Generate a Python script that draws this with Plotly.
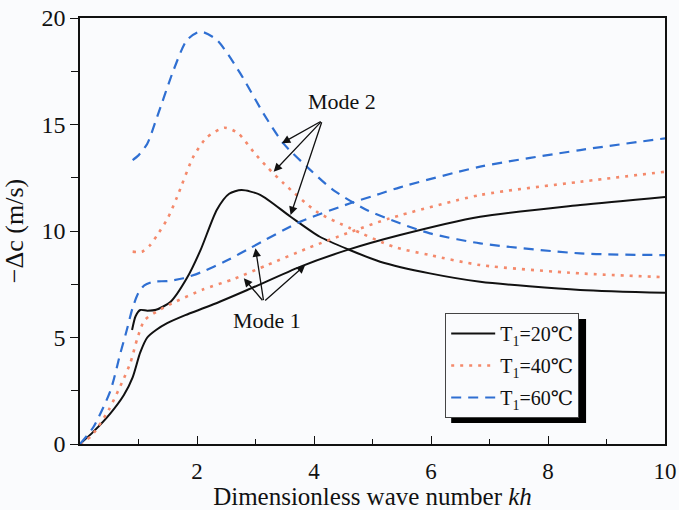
import plotly.graph_objects as go

# ---------------- data ----------------
kh_T20_m1 = [0, 0.23, 0.52, 0.75, 0.9, 1.03, 1.15, 1.3, 1.49, 1.8, 2.23, 2.86, 3.77, 4.56, 5.47, 6.84, 8.55, 10]
dc_T20_m1 = [0, 0.58, 1.44, 2.3, 3.13, 4.3, 5.0, 5.35, 5.67, 6.05, 6.5, 7.23, 8.33, 9.1, 9.81, 10.67, 11.22, 11.6]
kh_T20_m2 = [0.89, 0.95, 1.03, 1.15, 1.3, 1.55, 1.83, 2.06, 2.34, 2.55, 2.76, 3.08, 3.6, 4.1, 4.6, 5.13, 5.98, 6.84, 8.55, 10]
dc_T20_m2 = [5.35, 6.0, 6.29, 6.26, 6.3, 6.68, 7.8, 9.1, 11.0, 11.75, 11.92, 11.7, 10.67, 9.73, 9.12, 8.56, 8.01, 7.62, 7.23, 7.1]

kh_T40_m1 = [0, 0.2, 0.49, 0.72, 0.86, 0.98, 1.1, 1.3, 1.57, 2.1, 2.63, 3.2, 3.9, 4.62, 5.3, 6.84, 8.55, 10]
dc_T40_m1 = [0, 0.4, 1.6, 2.9, 3.8, 4.95, 5.8, 6.2, 6.6, 7.25, 7.75, 8.4, 9.2, 9.95, 10.6, 11.69, 12.31, 12.78]
kh_T40_m2 = [0.9, 1.06, 1.2, 1.32, 1.5, 1.66, 1.94, 2.17, 2.47, 2.7, 2.97, 3.2, 3.48, 4.05, 4.62, 5.36, 5.98, 6.84, 8.55, 10]
dc_T40_m2 = [9.03, 9.03, 9.34, 9.81, 10.6, 11.6, 13.5, 14.4, 14.85, 14.6, 13.7, 13.0, 12.24, 10.9, 10.13, 9.26, 8.87, 8.4, 8.01, 7.83]

kh_T60_m1 = [0, 0.23, 0.52, 0.69, 0.8, 0.9, 1.0, 1.1, 1.26, 1.5, 1.77, 2.06, 2.5, 2.91, 3.77, 4.62, 5.13, 5.47, 6.84, 8.55, 10]
dc_T60_m1 = [0, 0.8, 2.5, 4.26, 5.35, 6.4, 7.1, 7.45, 7.62, 7.65, 7.78, 8.05, 8.6, 9.2, 10.44, 11.3, 11.75, 12.05, 13.02, 13.8, 14.35]
kh_T60_m2 = [0.9, 1.0, 1.15, 1.32, 1.6, 1.83, 2.06, 2.34, 2.74, 3.14, 3.48, 3.94, 4.33, 4.9, 5.47, 5.98, 6.84, 8.55, 10]
dc_T60_m2 = [13.33, 13.55, 14.1, 15.37, 17.56, 18.97, 19.36, 18.97, 17.4, 15.5, 14.1, 12.86, 11.92, 10.99, 10.36, 9.89, 9.42, 8.95, 8.87]

series_names = ["T<sub>1</sub>=20\u2103", "T<sub>1</sub>=40\u2103", "T<sub>1</sub>=60\u2103"]

x_ticks = [2, 4, 6, 8, 10]
y_ticks = [0, 5, 10, 15, 20]

# annotation anchor points (data coordinates)
mode2_label = (4.48, 16.07)
mode2_tail = (4.14, 15.18)
mode2_heads = [(3.45, 14.12), (3.31, 12.78), (3.6, 10.75)]
mode1_label = (3.2, 5.82)
mode1_tail = (3.14, 6.68)
mode1_heads = [(3.0, 9.19), (2.8, 7.78), (3.85, 8.4)]

# ---------------- styling ----------------
FONT = "Liberation Serif, Times New Roman, DejaVu Serif, serif"
BG = "#fafbfd"
colors = ["#111111", "#f4896b", "#2f6fd2"]
dashes = ["solid", "3px,6px", "10px,7px"]
widths = [2, 2.6, 2.2]

fig = go.Figure()
datasets = [
    (kh_T20_m1, dc_T20_m1, kh_T20_m2, dc_T20_m2),
    (kh_T40_m1, dc_T40_m1, kh_T40_m2, dc_T40_m2),
    (kh_T60_m1, dc_T60_m1, kh_T60_m2, dc_T60_m2),
]
for i, (x1, y1, x2, y2) in enumerate(datasets):
    fig.add_trace(go.Scatter(
        x=list(x1) + [None] + list(x2),
        y=list(y1) + [None] + list(y2),
        mode="lines", name=series_names[i], legendgroup=str(i),
        connectgaps=False,
        line=dict(color=colors[i], dash=dashes[i], width=widths[i], shape="spline", smoothing=0.7),
    ))

annotations = []
for (hx, hy) in mode2_heads:
    annotations.append(dict(x=hx, y=hy, ax=mode2_tail[0], ay=mode2_tail[1], axref="x", ayref="y",
                            xref="x", yref="y", text="", showarrow=True, arrowhead=2,
                            arrowsize=1.3, arrowwidth=1.3, arrowcolor="#111", standoff=0, startstandoff=0))
for (hx, hy) in mode1_heads:
    annotations.append(dict(x=hx, y=hy, ax=mode1_tail[0], ay=mode1_tail[1], axref="x", ayref="y",
                            xref="x", yref="y", text="", showarrow=True, arrowhead=2,
                            arrowsize=1.3, arrowwidth=1.3, arrowcolor="#111", standoff=0, startstandoff=0))
annotations.append(dict(x=mode2_label[0], y=mode2_label[1], text="Mode 2", showarrow=False,
                        xref="x", yref="y", font=dict(family=FONT, size=22, color="#111")))
annotations.append(dict(x=mode1_label[0], y=mode1_label[1], text="Mode 1", showarrow=False,
                        xref="x", yref="y", font=dict(family=FONT, size=22, color="#111")))

pw, ph = 585.5, 426.0
lx0 = (445 - 79.5) / pw
ly1 = (444 - 313) / ph
# drop shadow behind the legend box, offset by ~6 px
shapes = [dict(type="rect", xref="paper", yref="paper",
               x0=(451 - 79.5) / pw, x1=(586 - 79.5) / pw,
               y0=(444 - 423) / ph, y1=(444 - 319) / ph,
               fillcolor="black", opacity=1, line=dict(width=0), layer="below")]

fig.update_layout(
    width=679, height=510,
    margin=dict(l=79.5, r=14, t=18, b=66, autoexpand=False),
    paper_bgcolor=BG, plot_bgcolor="rgba(0,0,0,0)",
    font=dict(family=FONT, size=23, color="#111"),
    showlegend=True,
    legend=dict(x=lx0, y=ly1, xanchor="left", yanchor="top", bgcolor=BG, bordercolor="#444", borderwidth=1,
                font=dict(family=FONT, size=20, color="#111"), itemwidth=44, traceorder="grouped",
                tracegroupgap=3),
    annotations=annotations,
    shapes=shapes,
)
fig.update_xaxes(range=[0, 10], tickvals=x_ticks, ticks="inside", ticklen=8, tickwidth=1.3, tickcolor="#111",
                 showline=True, linecolor="#111", linewidth=1.5, mirror=True, showgrid=False, zeroline=False,
                 minor=dict(dtick=1, tick0=0, ticks="inside", ticklen=5, tickwidth=1.3, tickcolor="#111"),
                 ticklabelstandoff=6, tickfont=dict(size=23),
                 title=dict(text="Dimensionless wave number <i>kh</i>", font=dict(family=FONT, size=25), standoff=6))
fig.update_yaxes(range=[0, 20], tickvals=y_ticks, ticks="outside", ticklen=8, tickwidth=1.3, tickcolor="#111",
                 showline=True, linecolor="#111", linewidth=1.5, mirror=True, showgrid=False, zeroline=False,
                 minor=dict(dtick=2.5, tick0=0, ticks="outside", ticklen=7, tickwidth=1.3, tickcolor="#111"),
                 tickfont=dict(size=24),
                 title=dict(text="\u2212\u0394c (m/s)", font=dict(family=FONT, size=26), standoff=12))

fig.write_html("out.html")
